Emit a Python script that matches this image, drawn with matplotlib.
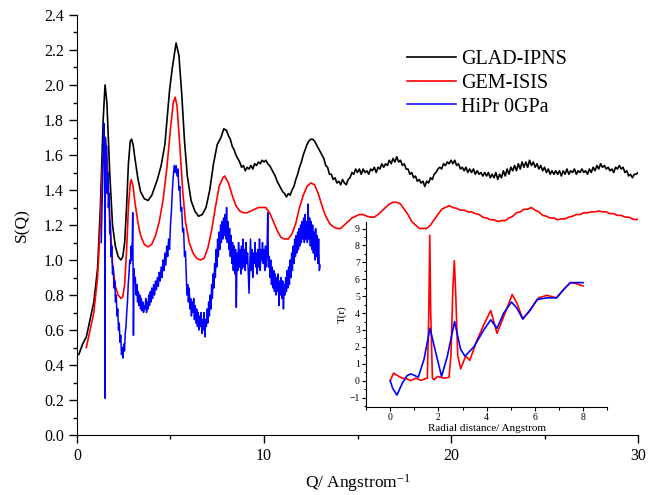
import matplotlib
matplotlib.use("Agg")
import matplotlib.pyplot as plt
from matplotlib.ticker import MultipleLocator, FormatStrFormatter

plt.rcParams['font.family'] = ['Liberation Serif', 'DejaVu Serif']
plt.rcParams['mathtext.fontset'] = 'custom'
plt.rcParams['mathtext.rm'] = 'Liberation Serif'
plt.rcParams['mathtext.it'] = 'Liberation Serif:italic'

# ---------------- main data: S(Q) ----------------
glad_q = [0.1, 0.3, 0.5, 0.7, 0.9, 1.1, 1.25, 1.4, 1.5, 1.6, 1.75, 1.9, 2.05, 2.2, 2.35, 2.45, 2.55, 2.65,
          2.75, 2.85, 2.92, 3.0, 3.1, 3.25, 3.4, 3.6, 3.8, 4.0, 4.1, 4.3, 4.5, 4.7, 4.85, 4.95, 5.1, 5.3,
          5.45, 5.6, 5.75, 5.9, 6.1, 6.3, 6.5, 6.7, 6.9, 7.1, 7.3, 7.5, 7.7, 7.85,
          8.0, 8.1, 8.2, 8.3, 8.4, 8.5, 8.6, 8.7, 8.8, 8.9, 9.0, 9.1, 9.2, 9.3, 9.4, 9.5, 9.6, 9.7, 9.8, 9.9,
          10.0, 10.1, 10.2, 10.3, 10.4, 10.5, 10.6, 10.7, 10.8, 10.9, 11.0, 11.1, 11.2, 11.3, 11.4, 11.5,
          11.6, 11.7, 11.8, 11.9, 12.0, 12.1, 12.2, 12.3, 12.4, 12.5, 12.6, 12.7, 12.8, 12.9,
          13.0, 13.1, 13.2, 13.3, 13.4, 13.5, 13.6, 13.7, 13.8, 13.9, 14.0, 14.1, 14.2, 14.3, 14.4, 14.5,
          14.6, 14.7, 14.8, 14.9, 15.0, 15.1, 15.2, 15.3, 15.4, 15.5, 15.6, 15.7, 15.8, 15.9, 16.0, 16.1,
          16.2, 16.3, 16.4, 16.5, 16.6, 16.7, 16.8, 16.9, 17.0, 17.1, 17.2, 17.3, 17.4, 17.5, 17.6, 17.7,
          17.8, 17.9, 18.0, 18.1, 18.2, 18.3, 18.4, 18.5, 18.6, 18.7, 18.8, 18.9, 19.0, 19.1, 19.2, 19.3,
          19.4, 19.5, 19.6, 19.7, 19.8, 19.9, 20.0, 20.1, 20.2, 20.3, 20.4, 20.5, 20.6, 20.7, 20.8, 20.9,
          21.0, 21.1, 21.2, 21.3, 21.4, 21.5, 21.6, 21.7, 21.8, 21.9, 22.0, 22.1, 22.2, 22.3, 22.4, 22.5,
          22.6, 22.7, 22.8, 22.9, 23.0, 23.1, 23.2, 23.3, 23.4, 23.5, 23.6, 23.7, 23.8, 23.9, 24.0, 24.1,
          24.2, 24.3, 24.4, 24.5, 24.6, 24.7, 24.8, 24.9, 25.0, 25.1, 25.2, 25.3, 25.4, 25.5, 25.6, 25.7,
          25.8, 25.9, 26.0, 26.1, 26.2, 26.3, 26.4, 26.5, 26.6, 26.7, 26.8, 26.9, 27.0, 27.1, 27.2, 27.3,
          27.4, 27.5, 27.6, 27.7, 27.8, 27.9, 28.0, 28.1, 28.2, 28.3, 28.4, 28.5, 28.6, 28.7, 28.8, 28.9,
          29.0, 29.1, 29.2, 29.3, 29.4, 29.5, 29.6, 29.7, 29.8, 29.9, 30.0]
glad_s = [0.46, 0.52, 0.56, 0.66, 0.76, 0.95, 1.3, 1.8, 2.0, 1.9, 1.5, 1.2, 1.08, 1.02, 1.0, 1.02, 1.1, 1.3,
          1.55, 1.68, 1.69, 1.66, 1.58, 1.47, 1.39, 1.35, 1.34, 1.37, 1.4, 1.46, 1.54, 1.66, 1.85, 1.97, 2.1, 2.24,
          2.17, 1.95, 1.68, 1.48, 1.34, 1.28, 1.25, 1.26, 1.3, 1.4, 1.55, 1.66, 1.7, 1.75,
          1.74, 1.71, 1.69, 1.65, 1.63, 1.60, 1.58, 1.56, 1.53, 1.54, 1.51, 1.53, 1.52, 1.54, 1.52, 1.55, 1.54, 1.56, 1.55, 1.57,
          1.56, 1.57, 1.55, 1.54, 1.52, 1.50, 1.48, 1.45, 1.43, 1.41, 1.39, 1.38, 1.36, 1.38, 1.37, 1.40,
          1.42, 1.46, 1.49, 1.53, 1.56, 1.60, 1.63, 1.66, 1.68, 1.69, 1.69, 1.68, 1.66, 1.64,
          1.62, 1.60, 1.58, 1.54, 1.53, 1.49, 1.49, 1.46, 1.47, 1.44, 1.45, 1.43, 1.46, 1.44, 1.43, 1.46,
          1.47, 1.50, 1.49, 1.52, 1.50, 1.52, 1.49, 1.52, 1.50, 1.51, 1.49, 1.52, 1.51, 1.53, 1.50, 1.53,
          1.52, 1.55, 1.53, 1.55, 1.54, 1.57, 1.55, 1.58, 1.56, 1.59, 1.56, 1.57, 1.54, 1.55, 1.52, 1.52,
          1.49, 1.50, 1.47, 1.48, 1.45, 1.46, 1.44, 1.45, 1.42, 1.45, 1.44, 1.47, 1.46, 1.49, 1.50, 1.52,
          1.53, 1.52, 1.55, 1.54, 1.56, 1.55, 1.57, 1.55, 1.57, 1.54, 1.55, 1.52, 1.53, 1.51, 1.53, 1.50,
          1.52, 1.50, 1.52, 1.49, 1.51, 1.49, 1.50, 1.48, 1.50, 1.48, 1.50, 1.47, 1.49, 1.47, 1.50, 1.46,
          1.49, 1.47, 1.51, 1.48, 1.52, 1.49, 1.53, 1.51, 1.54, 1.51, 1.55, 1.52, 1.56, 1.53, 1.56, 1.53,
          1.57, 1.54, 1.56, 1.53, 1.55, 1.52, 1.54, 1.51, 1.53, 1.50, 1.52, 1.49, 1.51, 1.49, 1.51, 1.49,
          1.51, 1.48, 1.51, 1.49, 1.52, 1.49, 1.51, 1.50, 1.52, 1.49, 1.51, 1.50, 1.52, 1.50, 1.51, 1.49,
          1.52, 1.50, 1.53, 1.51, 1.54, 1.52, 1.55, 1.53, 1.54, 1.52, 1.53, 1.51, 1.52, 1.50, 1.53, 1.52,
          1.54, 1.52, 1.53, 1.50, 1.51, 1.48, 1.49, 1.47, 1.49, 1.49, 1.50]

gem_q = [0.5, 0.7, 0.9, 1.1, 1.25, 1.35, 1.45, 1.5, 1.6, 1.75, 1.9, 2.05, 2.2, 2.35, 2.45, 2.55, 2.65, 2.75,
         2.85, 2.9, 3.0, 3.1, 3.25, 3.4, 3.6, 3.8, 4.0, 4.2, 4.4, 4.6, 4.8, 5.0, 5.15, 5.25, 5.35, 5.5, 5.65,
         5.8, 6.0, 6.2, 6.4, 6.6, 6.8, 7.0, 7.2, 7.4, 7.6, 7.8, 7.9, 8.1, 8.3, 8.5, 8.7, 8.9, 9.1, 9.3, 9.5,
         9.7, 9.9, 10.1, 10.3, 10.5, 10.7, 10.9, 11.1, 11.3, 11.5, 11.7, 11.9, 12.1, 12.3, 12.5, 12.7, 12.9,
         13.1, 13.3, 13.5, 13.7, 13.9, 14.1, 14.3, 14.5, 14.7, 14.9, 15.1, 15.3, 15.5, 15.7, 15.9, 16.1,
         16.3, 16.5, 16.7, 16.9, 17.1, 17.3, 17.5, 17.7, 17.9, 18.1, 18.3, 18.5, 18.7, 18.9, 19.1, 19.3,
         19.5, 19.7, 19.9, 20.1, 20.3, 20.5, 20.7, 20.9, 21.1, 21.3, 21.5, 21.7, 21.9, 22.1, 22.3, 22.5,
         22.7, 22.9, 23.1, 23.3, 23.5, 23.7, 23.9, 24.1, 24.3, 24.5, 24.7, 24.9, 25.1, 25.3, 25.5, 25.7,
         25.9, 26.1, 26.3, 26.5, 26.7, 26.9, 27.1, 27.3, 27.5, 27.7, 27.9, 28.1, 28.3, 28.5, 28.7, 28.9,
         29.1, 29.3, 29.5, 29.7, 29.9, 30.0]
gem_s = [0.5, 0.6, 0.7, 0.9, 1.2, 1.5, 1.68, 1.7, 1.6, 1.25, 0.98, 0.85, 0.8, 0.78, 0.79, 0.86, 1.05, 1.3,
         1.44, 1.46, 1.42, 1.33, 1.22, 1.14, 1.09, 1.075, 1.09, 1.14, 1.22, 1.34, 1.52, 1.75, 1.9, 1.93, 1.88, 1.65, 1.4,
         1.22, 1.1, 1.04, 1.01, 1.0, 1.01, 1.07, 1.17, 1.3, 1.42, 1.47, 1.48, 1.44, 1.37, 1.31, 1.28, 1.27, 1.27, 1.28, 1.29,
         1.3, 1.3, 1.3, 1.27, 1.22, 1.17, 1.13, 1.12, 1.12, 1.15, 1.21, 1.3, 1.37, 1.42, 1.44, 1.43, 1.38,
         1.31, 1.25, 1.21, 1.19, 1.18, 1.18, 1.2, 1.22, 1.24, 1.25, 1.26, 1.26, 1.25, 1.245, 1.245, 1.26,
         1.28, 1.3, 1.32, 1.33, 1.33, 1.32, 1.29, 1.26, 1.22, 1.2, 1.18, 1.18, 1.18, 1.2, 1.23, 1.26,
         1.29, 1.3, 1.31, 1.3, 1.295, 1.285, 1.285, 1.275, 1.275, 1.265, 1.26, 1.245, 1.24, 1.23, 1.23, 1.22,
         1.225, 1.225, 1.24, 1.25, 1.27, 1.275, 1.29, 1.29, 1.3, 1.285, 1.275, 1.255, 1.25, 1.24, 1.24, 1.23,
         1.235, 1.235, 1.245, 1.25, 1.26, 1.26, 1.27, 1.27, 1.275, 1.275, 1.28, 1.275, 1.275, 1.265, 1.265, 1.255,
         1.255, 1.245, 1.245, 1.235, 1.23, 1.235]

hipr_q = [1.30, 1.35, 1.40, 1.45, 1.48, 1.50, 1.52, 1.55, 1.58, 1.62, 1.65, 1.68, 1.72, 1.75, 1.78, 1.82, 1.86,
          1.90, 1.94, 1.98, 2.02, 2.06, 2.10, 2.14, 2.18, 2.22, 2.26, 2.30, 2.34, 2.38, 2.42, 2.46, 2.50, 2.54,
          2.58, 2.62, 2.66, 2.70, 2.74, 2.78, 2.82, 2.86, 2.90, 2.94, 2.98, 3.00, 3.02, 3.05, 3.08, 3.12, 3.16,
          3.20, 3.24, 3.28, 3.32, 3.36, 3.40, 3.44, 3.48, 3.52, 3.56, 3.60, 3.64, 3.68, 3.72, 3.76, 3.80, 3.84,
          3.88, 3.92, 3.96, 4.00, 4.05, 4.10, 4.15, 4.20, 4.25, 4.30, 4.35, 4.40, 4.45, 4.50, 4.55, 4.60, 4.65,
          4.70, 4.75, 4.80, 4.85, 4.90, 4.95, 5.00, 5.05, 5.10, 5.15, 5.20, 5.25, 5.30, 5.35, 5.40, 5.45, 5.50,
          5.55, 5.60, 5.65, 5.70, 5.75, 5.80, 5.85, 5.88, 5.92, 5.96, 6.00, 6.04, 6.08, 6.12, 6.16, 6.20, 6.24,
          6.28, 6.32, 6.36, 6.40, 6.44, 6.48, 6.52, 6.56, 6.60, 6.64, 6.68, 6.72, 6.76, 6.80, 6.84, 6.88, 6.92,
          6.96, 7.00, 7.04, 7.08, 7.12, 7.16, 7.20, 7.24, 7.28, 7.32, 7.36, 7.40, 7.44, 7.48, 7.52, 7.56, 7.60,
          7.64, 7.68, 7.72, 7.76, 7.80, 7.84, 7.88, 7.92, 7.96, 8.00, 8.04, 8.08, 8.12, 8.16, 8.20, 8.24, 8.28,
          8.32, 8.36, 8.40, 8.44, 8.48, 8.52, 8.56, 8.60, 8.64, 8.68, 8.72, 8.76, 8.80, 8.84, 8.88, 8.92, 8.96,
          9.00, 9.04, 9.08, 9.12, 9.16, 9.20, 9.24, 9.28, 9.32, 9.36, 9.40, 9.44, 9.48, 9.52, 9.56, 9.60, 9.64,
          9.68, 9.72, 9.76, 9.80, 9.84, 9.88, 9.92, 9.96, 10.00, 10.04, 10.08, 10.12, 10.16, 10.20, 10.24, 10.28,
          10.32, 10.36, 10.40, 10.44, 10.48, 10.52, 10.56, 10.60, 10.64, 10.68, 10.72, 10.76, 10.80, 10.84, 10.88,
          10.92, 10.96, 11.00, 11.04, 11.08, 11.12, 11.16, 11.20, 11.24, 11.28, 11.32, 11.36, 11.40, 11.44, 11.48,
          11.52, 11.56, 11.60, 11.64, 11.68, 11.72, 11.76, 11.80, 11.84, 11.88, 11.92, 11.96, 12.00, 12.04, 12.08,
          12.12, 12.16, 12.20, 12.24, 12.28, 12.32, 12.36, 12.40, 12.44, 12.48, 12.52, 12.56, 12.60, 12.64, 12.68,
          12.72, 12.76, 12.80, 12.84, 12.88, 12.92, 12.96, 13.00]
hipr_s = [1.10, 1.35, 1.60, 1.78, 1.60, 0.21, 1.70, 1.55, 1.65, 1.38, 1.50, 1.30, 1.38, 1.15, 1.22, 1.02, 1.08,
          0.92, 0.96, 0.84, 0.88, 0.76, 0.80, 0.68, 0.72, 0.60, 0.64, 0.53, 0.57, 0.46, 0.50, 0.44, 0.52, 0.48,
          0.58, 0.62, 0.70, 0.76, 0.86, 0.92, 1.00, 0.98, 1.08, 1.00, 1.27, 0.92, 0.57, 0.95, 0.88, 0.90, 0.80,
          0.86, 0.76, 0.82, 0.74, 0.80, 0.72, 0.78, 0.71, 0.76, 0.70, 0.74, 0.72, 0.78, 0.70, 0.76, 0.72, 0.80,
          0.74, 0.82, 0.76, 0.84, 0.78, 0.86, 0.80, 0.88, 0.83, 0.90, 0.85, 0.93, 0.88, 0.96, 0.90, 1.00, 0.94,
          1.04, 0.97, 1.08, 1.02, 1.12, 1.06, 1.20, 1.28, 1.40, 1.48, 1.54, 1.50, 1.54, 1.48, 1.52, 1.40, 1.42,
          1.28, 1.30, 1.16, 1.18, 1.02, 1.05, 0.90, 0.80, 0.86, 0.76, 0.84, 0.72, 0.78, 0.68, 0.76, 0.70, 0.78,
          0.66, 0.74, 0.64, 0.72, 0.62, 0.70, 0.60, 0.68, 0.62, 0.70, 0.58, 0.66, 0.60, 0.70, 0.56, 0.66, 0.62,
          0.72, 0.64, 0.76, 0.68, 0.80, 0.72, 0.86, 0.78, 0.92, 0.84, 0.98, 0.90, 1.06, 0.96, 1.12, 1.02, 1.16,
          1.06, 1.20, 1.10, 1.22, 1.12, 1.24, 1.14, 1.26, 1.12, 1.30, 1.10, 1.22, 1.06, 1.18, 1.02, 1.14, 0.98,
          1.10, 0.94, 1.08, 0.92, 1.06, 0.73, 1.04, 0.94, 1.10, 0.96, 1.06, 0.92, 1.08, 0.95, 1.12, 0.96, 1.06,
          0.94, 1.10, 0.98, 1.04, 0.92, 0.81, 0.96, 1.12, 0.94, 1.06, 0.90, 1.04, 0.98, 1.10, 0.96, 1.04, 0.92,
          1.06, 0.96, 1.12, 0.94, 1.06, 1.00, 1.10, 0.98, 1.06, 0.94, 1.08, 0.96, 1.04, 1.27, 0.96, 1.02,
          0.90, 1.00, 0.86, 0.96, 0.84, 0.94, 0.82, 0.92, 0.80, 0.90, 0.82, 0.92, 0.74, 0.88, 0.80,
          0.90, 0.78, 0.88, 0.72, 0.86, 0.80, 0.90, 0.82, 0.94, 0.84, 0.96, 0.86, 1.00, 0.90, 1.04,
          0.94, 1.08, 0.98, 1.12, 1.02, 1.14, 1.04, 1.16, 1.06, 1.18, 1.08, 1.20, 1.10, 1.22, 1.12,
          1.24, 1.10, 1.26, 1.12, 1.22, 1.10, 1.32, 1.12, 1.24, 1.08, 1.22, 1.06, 1.20, 1.04, 1.16,
          1.00, 1.18, 1.02, 1.14, 0.98, 1.12, 0.94, 0.97]

series_labels = ["GLAD-IPNS", "GEM-ISIS", "HiPr 0GPa"]
series_colors = ["black", "red", "blue"]

# ---------------- inset data: T(r) ----------------
t_red_r = [0.0, 0.14, 0.3, 0.5, 0.7, 0.85, 1.06, 1.27, 1.47, 1.54, 1.6, 1.64, 1.68, 1.75, 1.82, 1.96, 2.23, 2.44,
           2.52, 2.6, 2.66, 2.72, 2.8, 2.92, 3.13, 3.3, 3.6, 3.88, 4.17, 4.43, 4.71, 5.06, 5.25, 5.5, 5.8,
           6.16, 6.5, 6.9, 7.2, 7.47, 7.7, 8.0]
t_red = [0.0, 0.45, 0.3, 0.15, 0.1, 0.0, 0.15, 0.02, 0.12, 0.15, 4.0, 8.6, 4.0, 0.15, 0.05, 0.25, 0.15, 0.2,
         1.5, 5.5, 7.1, 5.0, 1.5, 0.7, 1.45, 1.2, 2.4, 3.3, 4.15, 2.8, 3.8, 5.1, 4.6, 3.65, 4.2,
         4.9, 5.05, 4.9, 5.4, 5.8, 5.75, 5.6]
t_blue_r = [0.0, 0.1, 0.28, 0.5, 0.7, 0.85, 1.0, 1.16, 1.4, 1.65, 1.89, 2.13, 2.37, 2.67, 2.92, 3.1, 3.47, 3.88,
            4.17, 4.43, 4.71, 5.03, 5.25, 5.5, 5.8, 6.09, 6.5, 6.9, 7.2, 7.47, 7.7, 8.0]
t_blue = [0.0, -0.45, -0.85, -0.15, 0.3, 0.4, 0.32, 0.2, 1.25, 3.1, 1.65, 0.25, 1.45, 3.5, 1.85, 1.45, 2.0, 3.0,
          3.6, 3.1, 4.0, 4.65, 4.3, 3.65, 4.15, 4.8, 4.9, 4.9, 5.4, 5.8, 5.8, 5.8]

fig = plt.figure(figsize=(6.48, 4.95), dpi=100)
ax = fig.add_axes([0.1188, 0.1212, 0.8658, 0.8485])

ax.plot(glad_q, glad_s, color=series_colors[0], lw=1.2, label=series_labels[0])
ax.plot(gem_q, gem_s, color=series_colors[1], lw=1.2, label=series_labels[1])
ax.plot(hipr_q, hipr_s, color=series_colors[2], lw=1.1, label=series_labels[2])

ax.set_xlim(0, 30)
ax.set_ylim(0, 2.4)
ax.xaxis.set_major_locator(MultipleLocator(10))
ax.xaxis.set_minor_locator(MultipleLocator(5))
ax.yaxis.set_major_locator(MultipleLocator(0.2))
ax.yaxis.set_minor_locator(MultipleLocator(0.1))
ax.yaxis.set_major_formatter(FormatStrFormatter('%.1f'))
for s in ['top', 'right']:
    ax.spines[s].set_visible(False)
ax.tick_params(which='major', direction='out', length=6, width=1, labelsize=11.5)
ax.tick_params(which='minor', direction='out', length=3, width=1)
ax.set_ylabel("S(Q)", fontsize=12.5, labelpad=10)
ax.set_xlabel("Q/ Angstrom$^{-1}$", fontsize=12.5, labelpad=6)

leg = ax.legend(loc='upper left', bbox_to_anchor=(0.574, 0.935), frameon=False, fontsize=14.5,
                handlelength=2.45, handletextpad=0.25, labelspacing=0.22, borderaxespad=0)

# inset
axi = fig.add_axes([0.565, 0.178, 0.372, 0.374])
axi.patch.set_alpha(0)
axi.plot(t_red_r, t_red, color='red', lw=1.2)
axi.plot(t_blue_r, t_blue, color='blue', lw=1.2)
axi.set_xlim(-1, 9)
axi.set_ylim(-1.55, 9.4)
axi.xaxis.set_major_locator(MultipleLocator(2))
axi.xaxis.set_minor_locator(MultipleLocator(1))
axi.yaxis.set_major_locator(MultipleLocator(1))
axi.yaxis.set_minor_locator(MultipleLocator(0.5))
for s in ['top', 'right']:
    axi.spines[s].set_visible(False)
axi.tick_params(which='major', direction='out', length=3, width=0.8, labelsize=7, pad=1.5)
axi.tick_params(which='minor', direction='out', length=1.8, width=0.8)
axi.set_ylabel("T(r)", fontsize=8, labelpad=2)
axi.set_xlabel("Radial distance/ Angstrom", fontsize=8, labelpad=1)

fig.savefig("out.png", dpi=100)
